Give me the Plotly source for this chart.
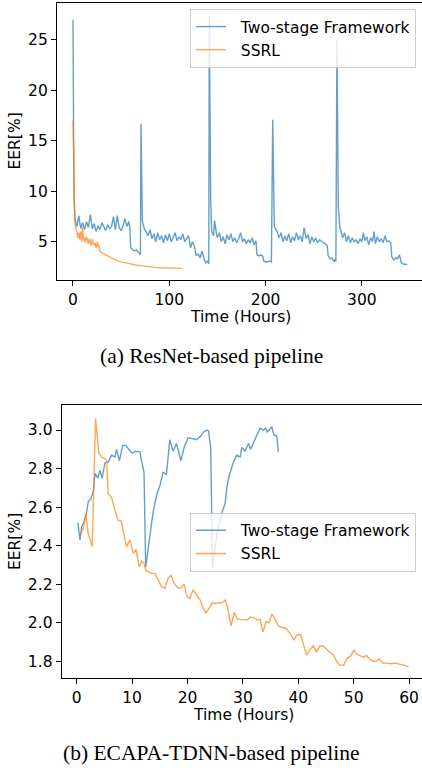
import plotly.graph_objects as go

# ---------------- (a) ResNet-based pipeline ----------------
a_two_x = [0, 1, 2, 4, 6, 8, 10, 12, 14, 16, 18, 20, 22, 24, 26, 28, 30, 32, 34, 36,
           38, 40, 42, 44, 46, 48, 50, 52, 54, 56, 58, 59, 60, 62, 64, 66, 68, 70,
           70.6, 72, 74, 76, 78, 80, 82, 84, 86, 88, 90, 92, 94, 96, 98, 100, 102, 104,
           106, 108, 110, 112, 114, 116, 118, 120, 122, 124, 126, 128, 130, 132, 134,
           136, 138, 140, 141,
           141.5, 143, 144, 146, 147, 149, 150, 152, 154, 156, 158, 160, 162, 164, 166,
           168, 170, 172, 174, 176, 178, 180, 182, 184, 186, 188, 190, 191, 193, 195,
           197, 198, 200, 202, 204, 206,
           207.4, 209, 210, 212, 214, 216, 218, 220, 222, 224, 226, 228, 230, 232, 234,
           236, 238, 240, 242, 244, 246, 248, 250, 252, 254, 256, 258, 260, 262, 264,
           265, 267, 269, 271, 272, 273,
           274.1, 275.5, 277, 278, 280, 282, 284, 286, 288, 290, 292, 294, 296, 298, 300,
           301.5, 303, 305, 307, 309, 311, 312.6, 314, 316, 318, 320, 322, 324, 326, 328,
           330, 331, 333, 335, 337, 339, 341, 343, 345, 347]
a_two_y = [27.0, 9.4, 7.3, 6.5, 7.6, 6.3, 6.9, 6.2, 7.0, 6.4, 7.7, 6.3, 6.8, 6.0, 6.6, 6.2, 6.9, 6.4, 6.1, 6.7,
           6.3, 6.5, 7.5, 6.2, 7.6, 6.4, 6.1, 6.6, 7.3, 6.5, 7.0, 6.4, 4.4, 4.2, 4.1, 4.2, 3.9, 3.7,
           16.7, 7.1, 6.3, 6.0, 5.6, 6.2, 5.3, 5.8, 5.0, 5.9, 5.2, 5.6, 4.9, 5.7, 5.1, 5.8, 5.0, 5.4,
           5.9, 5.1, 5.5, 5.2, 5.8, 5.0, 5.3, 5.6, 4.4, 5.0, 4.6, 3.6, 3.8, 3.4, 4.1,
           3.3, 2.9, 3.1, 2.8,
           27.4, 9.0, 6.0, 5.6, 7.1, 5.8, 5.4, 5.9, 5.0, 5.5, 4.8, 5.7, 5.2, 5.8, 5.0,
           5.4, 4.9, 5.3, 5.9, 5.0, 5.3, 4.8, 5.2, 4.9, 5.4, 4.7, 5.1, 3.7, 3.6, 3.7,
           3.6, 3.1, 3.0, 3.0, 3.1, 3.0,
           17.1, 6.6, 6.3, 6.0, 5.4, 5.9, 5.0, 5.6, 5.1, 5.8, 4.9, 5.5, 5.1, 5.9, 5.2,
           5.6, 5.0, 6.4, 5.3, 5.7, 4.8, 5.5, 5.0, 5.4, 4.9, 5.2, 5.0, 4.9, 4.8, 4.6,
           3.6, 3.3, 3.4, 3.0, 3.2, 3.1,
           25.1, 8.5, 6.5, 6.0, 5.4, 5.9, 5.0, 5.6, 4.9, 5.4, 5.0, 5.2, 4.8, 5.3, 5.0,
           5.9, 5.1, 5.5, 4.7, 5.4, 5.0, 6.0, 4.8, 5.5, 5.0, 5.3, 4.9, 5.6, 5.0, 5.1,
           4.9, 3.5, 3.2, 3.4, 3.3, 3.7, 2.9, 2.8, 2.8, 2.75]

a_ssrl_x = [0, 1, 2, 3, 4, 5, 6, 7, 8, 9, 10, 11, 12, 13, 14, 15, 16, 17, 18, 19, 20, 21, 22,
            23, 24, 25, 26, 27, 28, 30, 33, 36, 40, 45, 50, 55, 60, 65, 70, 75, 80, 85, 90,
            95, 100, 105, 110, 113]
a_ssrl_y = [17.0, 9.0, 7.0, 6.3, 6.0, 5.4, 5.9, 5.2, 6.0, 5.0, 6.5, 5.1, 5.4, 4.9, 5.5, 5.2,
            4.8, 5.3, 5.0, 4.6, 5.3, 4.8, 4.7, 4.9, 4.4, 5.0, 4.5, 4.7, 4.0, 3.9, 3.7, 3.55,
            3.35, 3.15, 3.0, 2.88, 2.78, 2.7, 2.63, 2.56, 2.5, 2.46, 2.43, 2.4, 2.38, 2.36,
            2.35, 2.36]

# ---------------- (b) ECAPA-TDNN-based pipeline ----------------
b_two_x = [0.2, 0.6, 0.9, 1.3, 1.7, 2.1, 2.5, 3.0, 3.3, 3.8, 4.2, 4.6, 5.1, 5.7, 6.3, 6.9,
           7.2, 7.7, 8.3, 8.9, 9.4, 10.0, 10.6, 11.4, 11.7, 12.15, 12.45,
           12.9, 13.5, 13.8, 14.4, 15.0, 15.6, 16.2, 16.8, 17.4, 18.0, 18.8, 19.4, 20.1,
           21.0, 21.6, 22.3, 22.9, 23.5, 23.8, 24.2, 24.5,
           25.3, 25.7, 26.2, 26.8, 27.1, 27.5, 28.3, 28.9, 29.5, 29.8, 30.4, 31.0, 31.4,
           32.0, 32.6, 33.1, 33.7, 34.1, 34.4, 35.2, 35.6, 36.1, 36.4]
b_two_y = [2.52, 2.43, 2.50, 2.52, 2.56, 2.63, 2.64, 2.68, 2.775, 2.75, 2.79, 2.75, 2.83, 2.835, 2.87, 2.86,
           2.90, 2.84, 2.92, 2.92, 2.90, 2.88, 2.89, 2.887, 2.84, 2.78, 2.29,
           2.38, 2.50, 2.575, 2.66, 2.71, 2.78, 2.77, 2.95, 2.89, 2.93, 2.84, 2.91, 2.96,
           2.955, 2.95, 2.965, 2.99, 3.0, 2.995, 2.905, 2.28,
           2.46, 2.51, 2.57, 2.62, 2.70, 2.76, 2.835, 2.87, 2.86, 2.91, 2.89, 2.93, 2.90,
           2.94, 2.974, 3.01, 3.0, 3.01, 2.99, 3.017, 2.975, 2.97, 2.887]

b_ssrl_x = [0.6, 1.2, 1.6, 2.1, 2.8, 3.4, 4.0, 4.5, 5.1, 5.4, 5.7, 6.3, 6.9, 7.5, 8.0, 8.5,
            9.0, 9.6, 10.2, 10.7, 11.3, 11.7, 12.1, 12.5, 13.5, 14.1, 14.7, 15.3, 15.9,
            16.5, 17.0, 17.6, 18.3, 18.8, 19.4, 19.9, 20.4, 21.0, 21.6, 22.3, 22.7, 23.3,
            23.7, 24.5, 25.1, 25.7, 26.1, 26.8, 27.2, 27.85, 28.45, 29.0, 29.8, 30.7, 31.4,
            32.0, 32.7, 33.1, 33.6, 34.2, 34.7, 35.25, 35.8, 36.4, 37.1, 37.8, 38.5, 39.2,
            39.7, 40.4, 40.9, 41.5, 42.1, 42.7, 43.3, 43.9, 44.5, 45.1, 45.8, 46.4, 46.9,
            47.5, 48.2, 48.8, 49.4, 50.05, 50.6, 51.4, 51.8, 52.3, 52.9, 53.6, 54.1, 54.6,
            55.2, 55.9, 56.8, 57.4, 58.4, 59.1, 59.9]
b_ssrl_y = [2.455, 2.49, 2.567, 2.46, 2.395, 3.06, 2.88, 2.86, 2.85, 2.845, 2.67, 2.65, 2.585, 2.53, 2.53, 2.46,
            2.395, 2.43, 2.36, 2.38, 2.29, 2.32, 2.31, 2.27, 2.256, 2.256, 2.22, 2.187, 2.18,
            2.23, 2.247, 2.204, 2.18, 2.18, 2.20, 2.135, 2.125, 2.17, 2.145, 2.118, 2.083, 2.052,
            2.065, 2.104, 2.10, 2.104, 2.10, 2.118, 2.083, 1.984, 2.054, 2.02, 2.016, 2.014, 2.03,
            2.025, 2.014, 2.016, 1.953, 2.005, 2.0, 2.045, 2.02, 1.983, 1.975, 1.97, 1.945, 1.91,
            1.935, 1.94, 1.89, 1.832, 1.86, 1.88, 1.847, 1.88, 1.878, 1.862, 1.845, 1.83, 1.80,
            1.78, 1.78, 1.815, 1.825, 1.858, 1.836, 1.825, 1.82, 1.83, 1.81, 1.80, 1.80, 1.813,
            1.79, 1.79, 1.787, 1.79, 1.784, 1.78, 1.771]

series_names = ["Two-stage Framework", "SSRL"]

BLUE = "rgba(31,119,180,0.7)"
ORANGE = "rgba(255,127,14,0.7)"
LW = 1.4
FONT = "DejaVu Sans"
FS = 15.5
W, H = 422, 768
PAD = "\u00a0\u00a0"

fig = go.Figure()
fig.add_trace(go.Scatter(x=a_two_x, y=a_two_y, mode="lines", name=PAD + series_names[0],
                         line=dict(color=BLUE, width=LW), xaxis="x", yaxis="y", legend="legend"))
fig.add_trace(go.Scatter(x=a_ssrl_x, y=a_ssrl_y, mode="lines", name=PAD + series_names[1],
                         line=dict(color=ORANGE, width=LW), xaxis="x", yaxis="y", legend="legend"))
fig.add_trace(go.Scatter(x=b_two_x, y=b_two_y, mode="lines", name=PAD + series_names[0],
                         line=dict(color=BLUE, width=LW), xaxis="x2", yaxis="y2", legend="legend2"))
fig.add_trace(go.Scatter(x=b_ssrl_x, y=b_ssrl_y, mode="lines", name=PAD + series_names[1],
                         line=dict(color=ORANGE, width=LW), xaxis="x2", yaxis="y2", legend="legend2"))

axis_common = dict(showgrid=False, zeroline=False, showline=True, linecolor="black", linewidth=1.2,
                   ticks="outside", ticklen=5, tickwidth=1.2, tickcolor="black",
                   tickfont=dict(family=FONT, size=FS, color="black"))

fig.update_layout(
    width=W, height=H, margin=dict(l=0, r=0, t=0, b=0),
    paper_bgcolor="white", plot_bgcolor="white",
    xaxis=dict(domain=[57 / W, 1.0], range=[-16.6, 362.4], tickvals=[0, 100, 200, 300],
               anchor="y", mirror=True, **axis_common),
    yaxis=dict(domain=[1 - 280 / H, 1 - 3 / H], range=[1.21, 28.66], tickvals=[5, 10, 15, 20, 25],
               anchor="x", **axis_common),
    xaxis2=dict(domain=[61.7 / W, 1.0], range=[-2.71, 62.33], tickvals=[0, 10, 20, 30, 40, 50, 60],
                anchor="y2", mirror=True, **axis_common),
    yaxis2=dict(domain=[1 - 678 / H, 1 - 405 / H], range=[1.713, 3.13],
                tickvals=[1.8, 2.0, 2.2, 2.4, 2.6, 2.8, 3.0], tickformat=".1f",
                anchor="x2", **axis_common),
    legend=dict(x=416 / W, y=1 - 9 / H, xanchor="right", yanchor="top",
                bgcolor="rgba(255,255,255,0.8)", bordercolor="#cccccc", borderwidth=1,
                font=dict(family=FONT, size=FS, color="black")),
    legend2=dict(x=416 / W, y=1 - 512.7 / H, xanchor="right", yanchor="top",
                 bgcolor="rgba(255,255,255,0.8)", bordercolor="#cccccc", borderwidth=1,
                 font=dict(family=FONT, size=FS, color="black")),
    showlegend=True,
)

ann_font = dict(family=FONT, size=FS, color="black")
cap_font = dict(family="Liberation Serif", size=21.5, color="black")
fig.add_annotation(text="Time (Hours)", x=240 / W, y=1 - 316.7 / H, xref="paper", yref="paper",
                   xanchor="center", yanchor="middle", showarrow=False, font=ann_font)
fig.add_annotation(text="Time (Hours)", x=243 / W, y=1 - 715 / H, xref="paper", yref="paper",
                   xanchor="center", yanchor="middle", showarrow=False, font=ann_font)
fig.add_annotation(text="EER[%]", x=15 / W, y=1 - 141.5 / H, xref="paper", yref="paper",
                   xanchor="center", yanchor="middle", textangle=-90, showarrow=False, font=ann_font)
fig.add_annotation(text="EER[%]", x=14.5 / W, y=1 - 541.5 / H, xref="paper", yref="paper",
                   xanchor="center", yanchor="middle", textangle=-90, showarrow=False, font=ann_font)
fig.add_annotation(text="(a) ResNet-based pipeline", x=211 / W, y=1 - 355.7 / H, xref="paper",
                   yref="paper", xanchor="center", yanchor="middle", showarrow=False, font=cap_font)
fig.add_annotation(text="(b) ECAPA-TDNN-based pipeline", x=211 / W, y=1 - 753 / H, xref="paper",
                   yref="paper", xanchor="center", yanchor="middle", showarrow=False, font=cap_font)

fig.write_html("out.html", config={"displayModeBar": False},
               post_script="document.body.style.margin='0';document.body.style.padding='0';"
                           "document.body.style.overflow='hidden';")
